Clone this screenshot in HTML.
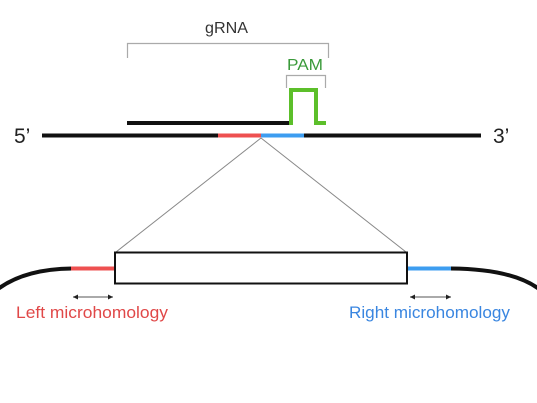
<!DOCTYPE html>
<html><head><meta charset="utf-8"><style>
html,body{margin:0;padding:0;background:#fff;width:537px;height:403px;overflow:hidden}
svg{display:block}
text{font-family:"Liberation Sans",sans-serif}
</style></head><body>
<svg width="537" height="403" viewBox="0 0 537 403">
<defs>
<marker id="ah" markerWidth="6" markerHeight="6" refX="5" refY="3" orient="auto-start-reverse" markerUnits="userSpaceOnUse">
<path d="M0,0.5 L5,3 L0,5.5 z" fill="#222"/></marker>
</defs>
<text x="205" y="33" font-size="16" fill="#333" textLength="43" lengthAdjust="spacingAndGlyphs">gRNA</text>
<path d="M127.5,58 V43.5 H328.5 V58" fill="none" stroke="#aaa" stroke-width="1.2"/>
<text x="287" y="70" font-size="16" fill="#3a9a3a" textLength="36" lengthAdjust="spacingAndGlyphs">PAM</text>
<path d="M286.5,88 V75.5 H325.5 V88" fill="none" stroke="#aaa" stroke-width="1.2"/>
<line x1="127" y1="123" x2="292" y2="123" stroke="#111" stroke-width="4"/>
<path d="M291,125 V90 H316 V123 H326" fill="none" stroke="#5cbf2a" stroke-width="4"/>
<line x1="42" y1="135.5" x2="218" y2="135.5" stroke="#111" stroke-width="4"/>
<line x1="218" y1="135.5" x2="261" y2="135.5" stroke="#ee5050" stroke-width="4"/>
<line x1="261" y1="135.5" x2="304" y2="135.5" stroke="#3d9df0" stroke-width="4"/>
<line x1="304" y1="135.5" x2="481" y2="135.5" stroke="#111" stroke-width="4"/>
<text x="14" y="143" font-size="21" fill="#222">5’</text>
<text x="493" y="143" font-size="21" fill="#222">3’</text>
<line x1="261" y1="138" x2="116" y2="252" stroke="#888" stroke-width="1"/>
<line x1="261" y1="138" x2="406" y2="252" stroke="#888" stroke-width="1"/>
<rect x="115" y="252.5" width="292" height="31" fill="#fff" stroke="#111" stroke-width="2"/>
<path d="M-2,289 Q25,269 72,268.5" fill="none" stroke="#111" stroke-width="4"/>
<line x1="71" y1="268.5" x2="114" y2="268.5" stroke="#ee5050" stroke-width="4"/>
<line x1="408" y1="268.5" x2="452" y2="268.5" stroke="#3d9df0" stroke-width="4"/>
<path d="M451,268.5 Q512,269 539,289" fill="none" stroke="#111" stroke-width="4"/>
<line x1="73" y1="297" x2="113" y2="297" stroke="#777" stroke-width="1.2" marker-start="url(#ah)" marker-end="url(#ah)"/>
<line x1="410" y1="297" x2="451" y2="297" stroke="#777" stroke-width="1.2" marker-start="url(#ah)" marker-end="url(#ah)"/>
<text x="16" y="318" font-size="17" fill="#e04848" textLength="152" lengthAdjust="spacingAndGlyphs">Left microhomology</text>
<text x="349" y="318" font-size="17" fill="#3a86e0" textLength="161" lengthAdjust="spacingAndGlyphs">Right microhomology</text>
</svg>
</body></html>
